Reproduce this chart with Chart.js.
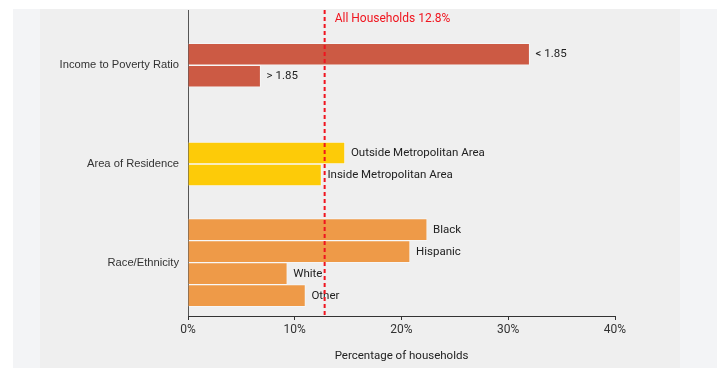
<!DOCTYPE html>
<html lang="en">
<head>
    <meta charset="UTF-8">
    <title>Households</title>
    <script src="https://cdn.jsdelivr.net/npm/chart.js"></script>
    <style>
        body { margin: 0; background: #fff; }
        #wrap { position: relative; width: 717px; height: 368px; overflow: hidden; }
        #outer { position: absolute; left: 13px; top: 9px; width: 704px; height: 359px; background: #f3f4f6; }
        #panel { position: absolute; left: 40px; top: 9px; width: 640px; height: 359px; background: #efefef; }
        #chart { position: absolute; left: 0; top: 0; }
    </style>
</head>
<body>
<div id="wrap">
    <div id="outer"></div>
    <div id="panel"></div>
    <canvas id="chart" width="717" height="368"></canvas>
</div>
<script>
    const groups = ['Income to Poverty Ratio', 'Area of Residence', 'Race/Ethnicity'];
    const incomeLabels = ['< 1.85', '> 1.85'];
    const incomeValues = [32.0, 6.8];
    const areaLabels = ['Outside Metropolitan Area', 'Inside Metropolitan Area'];
    const areaValues = [14.7, 12.5];
    const raceLabels = ['Black', 'Hispanic', 'White', 'Other'];
    const raceValues = [22.4, 20.8, 9.3, 11.0];
    const allHouseholds = 12.8;
    const xTicks = [0, 10, 20, 30, 40];

    const groupColors = ['#cc5a44', '#fdcb08', '#ee9a48'];
    const labelFont = '11.5px Roboto, "Noto Sans", sans-serif';
    const axisFont = 'Roboto, "Noto Sans", sans-serif';

    // one dataset per slot inside a group, nulls are skipped so bars stay centred
    const slotLabels = [incomeLabels, areaLabels, raceLabels];
    const slotValues = [incomeValues, areaValues, raceValues];
    const datasets = [];
    for (let k = 0; k < 4; k++) {
        datasets.push({
            data: slotValues.map(v => v[k] === undefined ? null : v[k]),
            barLabels: slotLabels.map(l => l[k]),
            backgroundColor: groupColors,
            borderColor: 'rgba(255,255,255,0.45)',
            borderWidth: 1
        });
    }

    const barLabels = {
        id: 'barLabels',
        afterDatasetsDraw(chart) {
            const ctx = chart.ctx;
            const area = chart.chartArea;
            ctx.save();
            ctx.font = labelFont;
            ctx.fillStyle = '#222';
            ctx.textBaseline = 'middle';
            chart.data.datasets.forEach((ds, di) => {
                chart.getDatasetMeta(di).data.forEach((bar, i) => {
                    if (ds.data[i] === null) return;
                    ctx.fillText(ds.barLabels[i], bar.x + 6, bar.y);
                });
            });
            // all households reference line
            const px = chart.scales.x.getPixelForValue(allHouseholds);
            ctx.strokeStyle = '#f0141e';
            ctx.lineWidth = 2;
            ctx.setLineDash([4, 3]);
            ctx.beginPath();
            ctx.moveTo(px, area.top);
            ctx.lineTo(px, area.bottom);
            ctx.stroke();
            ctx.font = '12px Roboto, "Noto Sans", sans-serif';
            ctx.fillStyle = '#f0141e';
            ctx.fillText('All Households ' + allHouseholds + '%', px + 10, area.top + 9);
            ctx.restore();
        }
    };

    new Chart(document.getElementById('chart'), {
        type: 'bar',
        data: { labels: groups.map((g, i) => i), datasets: datasets },
        plugins: [barLabels],
        options: {
            responsive: false,
            animation: false,
            indexAxis: 'y',
            skipNull: true,
            barThickness: 22,
            layout: { padding: { top: 10, right: 102, left: 0, bottom: 0 } },
            plugins: { legend: { display: false }, tooltip: { enabled: false } },
            scales: {
                y: {
                    type: 'linear',
                    offset: false,
                    reverse: true,
                    min: -0.56,
                    max: 2.54,
                    afterFit(scale) {
                        scale.width = 188;
                        scale.paddingTop = 0;
                        scale.paddingBottom = 0;
                    },
                    afterBuildTicks(scale) { scale.ticks = groups.map((g, i) => ({ value: i })); },
                    ticks: {
                        callback: v => groups[v],
                        font: { family: '"Liberation Sans", Arial, sans-serif', size: 11.2 },
                        color: '#333',
                        padding: 9
                    },
                    grid: { display: false, drawTicks: false },
                    border: { display: true, color: '#555', width: 1 }
                },
                x: {
                    min: 0,
                    max: 40,
                    afterFit(scale) { scale.height = 52; },
                    afterBuildTicks(scale) { scale.ticks = xTicks.map(v => ({ value: v })); },
                    ticks: {
                        callback: v => v + '%',
                        font: { family: axisFont, size: 12 },
                        color: '#333',
                        padding: 3,
                        maxRotation: 0
                    },
                    grid: { drawOnChartArea: false, drawTicks: true, tickLength: 4, color: '#333' },
                    border: { display: true, color: '#333', width: 1 },
                    title: {
                        display: true,
                        text: 'Percentage of households',
                        font: { family: axisFont, size: 11.5 },
                        color: '#222',
                        padding: { top: 0, bottom: 5 }
                    }
                }
            }
        }
    });
</script>
</body>
</html>
